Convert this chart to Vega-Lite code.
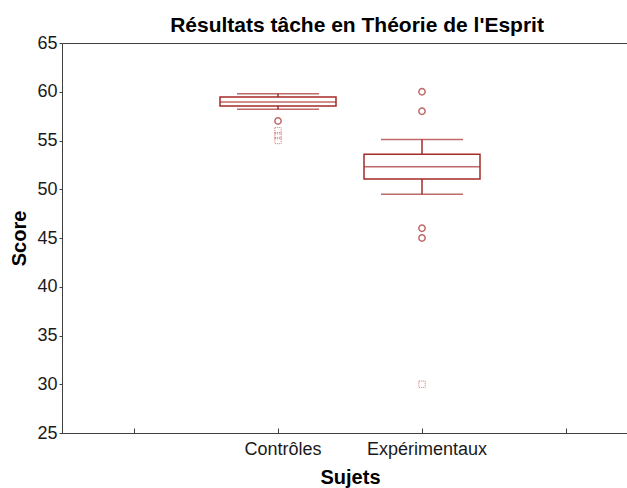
{
  "$schema": "https://vega.github.io/schema/vega-lite/v6.json",
  "autosize": "none",
  "padding": {"left": 62, "top": 43, "right": 0, "bottom": 55},
  "width": 576,
  "height": 390,
  "background": "white",
  "title": {"text": "Résultats tâche en Théorie de l'Esprit", "font": "Liberation Sans", "fontSize": 21, "fontWeight": "bold", "color": "#000000", "offset": 7, "dx": 7, "dy": 9},
  "config": {
    "view": {"stroke": "#404040", "strokeWidth": 1},
    "axis": {"labelFont": "Liberation Sans", "titleFont": "Liberation Sans", "labelColor": "#1a1a1a", "titleColor": "#000000", "domainColor": "#404040", "tickColor": "#404040", "grid": false, "labelFontSize": 18, "titleFontSize": 20, "titleFontWeight": "bold"}
  },
  "datasets": {
    "box": [
      {"groupe": "Contrôles", "min": 58.2, "q1": 58.55, "median": 58.95, "q3": 59.45, "max": 59.8},
      {"groupe": "Expérimentaux", "min": 49.5, "q1": 51.05, "median": 52.3, "q3": 53.6, "max": 55.1}
    ],
    "out": [
      {"groupe": "Contrôles", "score": 57, "type": "aberrant"},
      {"groupe": "Contrôles", "score": 56, "type": "extreme"},
      {"groupe": "Contrôles", "score": 55.5, "type": "extreme"},
      {"groupe": "Contrôles", "score": 55, "type": "extreme"},
      {"groupe": "Expérimentaux", "score": 60, "type": "aberrant"},
      {"groupe": "Expérimentaux", "score": 58, "type": "aberrant"},
      {"groupe": "Expérimentaux", "score": 46, "type": "aberrant"},
      {"groupe": "Expérimentaux", "score": 45, "type": "aberrant"},
      {"groupe": "Expérimentaux", "score": 30, "type": "extreme"}
    ]
  },
  "encoding": {
    "x": {"field": "groupe", "type": "nominal",
      "scale": {"domain": ["_a", "Contrôles", "Expérimentaux", "_b"], "paddingInner": 0, "paddingOuter": 0},
      "axis": {"title": "Sujets", "labelAngle": 0, "tickSize": -5, "labelPadding": 12, "labelOffset": 5, "titlePadding": 9, "labelExpr": "indexof(datum.value, '_') == 0 ? '' : datum.value"}
    }
  },
  "layer": [
    {
      "data": {"name": "box"},
      "mark": {"type": "rule", "color": "#a52a2a", "strokeWidth": 1.5},
      "encoding": {
        "y": {"field": "min", "type": "quantitative", "scale": {"domain": [25, 65], "nice": false, "zero": false},
          "axis": {"title": "Score", "values": [25, 30, 35, 40, 45, 50, 55, 60, 65], "tickSize": 3, "labelPadding": 2, "titlePadding": 7}},
        "y2": {"field": "max"}
      }
    },
    {
      "data": {"name": "box"},
      "mark": {"type": "bar", "size": 116, "fill": "white", "stroke": "#a52a2a", "strokeWidth": 1.5},
      "encoding": {
        "y": {"field": "q1", "type": "quantitative"},
        "y2": {"field": "q3"}
      }
    },
    {
      "data": {"name": "box"},
      "mark": {"type": "tick", "size": 116, "thickness": 1.5, "color": "#a52a2a", "orient": "horizontal"},
      "encoding": {"y": {"field": "median", "type": "quantitative"}}
    },
    {
      "data": {"name": "box"},
      "mark": {"type": "tick", "size": 82, "thickness": 1.5, "color": "#a52a2a", "orient": "horizontal"},
      "encoding": {"y": {"field": "min", "type": "quantitative"}}
    },
    {
      "data": {"name": "box"},
      "mark": {"type": "tick", "size": 82, "thickness": 1.5, "color": "#a52a2a", "orient": "horizontal"},
      "encoding": {"y": {"field": "max", "type": "quantitative"}}
    },
    {
      "data": {"name": "out"},
      "transform": [{"filter": "datum.type == 'aberrant'"}],
      "mark": {"type": "point", "shape": "circle", "filled": false, "size": 40, "stroke": "#a52a2a", "strokeWidth": 1.5},
      "encoding": {"y": {"field": "score", "type": "quantitative"}}
    },
    {
      "data": {"name": "out"},
      "transform": [{"filter": "datum.type == 'extreme'"}],
      "mark": {"type": "point", "shape": "square", "filled": false, "size": 40, "stroke": "#c04040", "strokeWidth": 1, "strokeDash": [1, 1]},
      "encoding": {"y": {"field": "score", "type": "quantitative"}}
    }
  ]
}
